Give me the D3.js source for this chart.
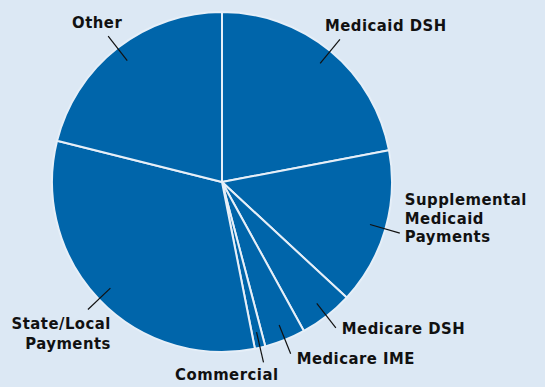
<!DOCTYPE html>
<html>
<head>
<meta charset="utf-8">
<script src="https://cdn.jsdelivr.net/npm/d3@7/dist/d3.min.js"></script>
<style>
  html, body { margin: 0; padding: 0; background: #dce8f4; }
  svg { display: block; }
  text { font-family: "DejaVu Sans Condensed", "DejaVu Sans", sans-serif; font-stretch: condensed; font-weight: bold; fill: #111; letter-spacing: 0.5px; }
</style>
</head>
<body>
<svg id="chart" width="545" height="387"></svg>
<script>
// Hospital funding sources, share of total (%)
const categories = ["Medicaid DSH", "Supplemental Medicaid Payments", "Medicare DSH",
                    "Medicare IME", "Commercial", "State/Local Payments", "Other"];
const shares = [22.0, 14.9, 5.1, 3.9, 1.0, 32.0, 21.1];

// Label text lines for each slice
const labelLines = [
  ["Medicaid DSH"],
  ["Supplemental", "Medicaid", "Payments"],
  ["Medicare DSH"],
  ["Medicare IME"],
  ["Commercial"],
  ["State/Local", "Payments"],
  ["Other"]
];

// Label placement relative to the outer end of each leader line
const labelPlacement = [
  { anchor: "start",  dx: -15, dy: -8,   lh: 19 },
  { anchor: "start",  dx: 5,   dy: -28,  lh: 18.5 },
  { anchor: "start",  dx: 6,   dy: 6,    lh: 19 },
  { anchor: "start",  dx: 6,   dy: 10,   lh: 19 },
  { anchor: "end",    dx: 15,  dy: 18,   lh: 19 },
  { anchor: "end",    dx: 23,  dy: 20,   lh: 20 },
  { anchor: "middle", dx: -11, dy: -8,   lh: 19 }
];

const width = 545, height = 387;
const cx = 222, cy = 182, radius = 170;

const svg = d3.select("#chart");
svg.append("rect").attr("width", width).attr("height", height).attr("fill", "#dce8f4");

const g = svg.append("g").attr("transform", `translate(${cx},${cy})`);

const pie = d3.pie().sort(null).value(d => d);
const arcs = pie(shares);

const arc = d3.arc().innerRadius(0).outerRadius(radius);
const leaderIn = d3.arc().innerRadius(154).outerRadius(154);
const leaderOut = d3.arc().innerRadius(185).outerRadius(185);

g.selectAll("path.slice")
  .data(arcs)
  .join("path")
  .attr("class", "slice")
  .attr("d", arc)
  .attr("fill", "#0065aa")
  .attr("stroke", "#e6eff8")
  .attr("stroke-width", 2)
  .attr("stroke-linejoin", "round");

// Leader lines from inside each slice out to its label
g.selectAll("line.leader")
  .data(arcs)
  .join("line")
  .attr("class", "leader")
  .attr("x1", d => leaderIn.centroid(d)[0])
  .attr("y1", d => leaderIn.centroid(d)[1])
  .attr("x2", d => leaderOut.centroid(d)[0])
  .attr("y2", d => leaderOut.centroid(d)[1])
  .attr("stroke", "#111")
  .attr("stroke-width", 1.2);

// Labels
const labels = g.selectAll("text.label")
  .data(arcs)
  .join("text")
  .attr("class", "label")
  .attr("font-size", 16.5)
  .attr("text-anchor", (d, i) => labelPlacement[i].anchor)
  .attr("x", (d, i) => leaderOut.centroid(d)[0] + labelPlacement[i].dx)
  .attr("y", (d, i) => leaderOut.centroid(d)[1] + labelPlacement[i].dy);

labels.each(function (d, i) {
  const t = d3.select(this);
  const x = leaderOut.centroid(d)[0] + labelPlacement[i].dx;
  labelLines[i].forEach((line, j) => {
    t.append("tspan")
      .attr("x", x)
      .attr("dy", j === 0 ? 0 : labelPlacement[i].lh)
      .text(line);
  });
});
</script>
</body>
</html>
